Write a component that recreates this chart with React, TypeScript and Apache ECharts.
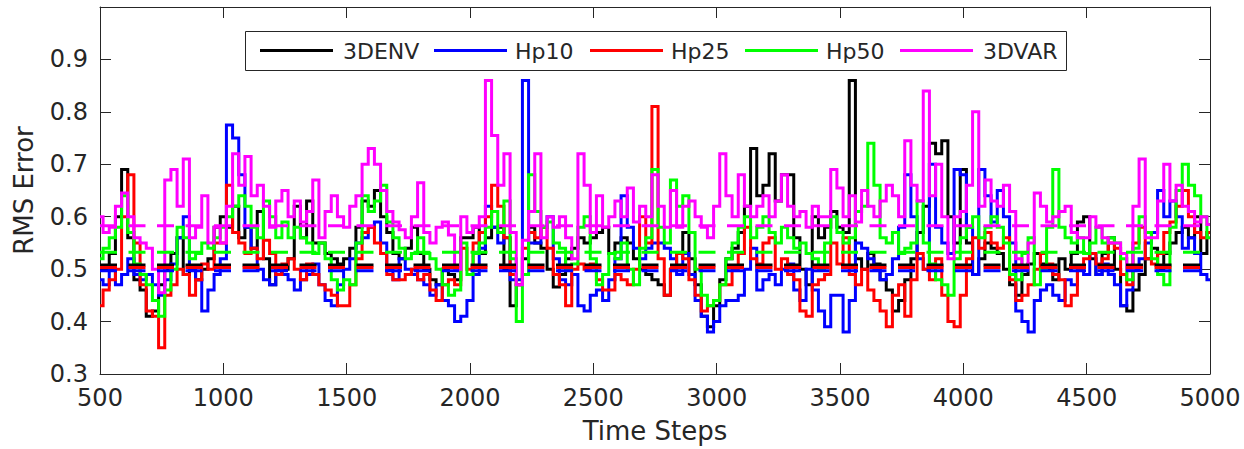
import React, { useEffect, useRef } from 'react';
import * as echarts from 'echarts';

// ---- data ----
const seriesNames = ['3DENV', 'Hp10', 'Hp25', 'Hp50', '3DVAR'];
const seriesColors = ['#000000', '#0000ff', '#ff0000', '#00ff00', '#ff00ff'];
const stepStart = 500;
const stepSize = 25;

const envValues = [
  0.50,0.50,0.53,0.60,0.69,0.56,0.48,0.46,0.41,0.42,0.47,0.50,0.53,0.56,0.49,0.50,0.48,0.50,0.52,0.58,
  0.60,0.58,0.62,0.56,0.58,0.54,0.61,0.52,0.47,0.49,0.50,0.52,0.62,0.56,0.63,0.55,0.55,0.53,0.52,0.51,
  0.52,0.54,0.58,0.63,0.62,0.65,0.60,0.57,0.53,0.52,0.54,0.58,0.53,0.50,0.48,0.47,0.50,0.49,0.48,0.56,
  0.56,0.58,0.53,0.56,0.58,0.58,0.50,0.43,0.47,0.52,0.58,0.55,0.54,0.50,0.466,0.49,0.52,0.54,0.56,0.55,
  0.56,0.57,0.58,0.53,0.55,0.56,0.55,0.52,0.50,0.49,0.48,0.47,0.45,0.50,0.53,0.57,0.52,0.47,0.41,0.39,
  0.43,0.48,0.52,0.54,0.57,0.62,0.73,0.64,0.66,0.72,0.63,0.68,0.68,0.56,0.50,0.47,0.60,0.56,0.58,0.61,
  0.58,0.57,0.86,0.52,0.50,0.53,0.51,0.48,0.46,0.42,0.44,0.48,0.52,0.57,0.62,0.74,0.72,0.745,0.60,0.55,
  0.69,0.55,0.49,0.52,0.55,0.54,0.53,0.50,0.47,0.45,0.49,0.51,0.53,0.51,0.50,0.48,0.52,0.50,0.53,0.59,
  0.60,0.52,0.49,0.53,0.56,0.50,0.43,0.42,0.46,0.49,0.52,0.54,0.50,0.53,0.55,0.57,0.58,0.56,0.60,0.53,0.57,
];

const hp10Values = [
  0.48,0.47,0.50,0.47,0.49,0.52,0.49,0.48,0.49,0.47,0.45,0.48,0.51,0.56,0.60,0.50,0.48,0.42,0.46,0.49,
  0.52,0.775,0.75,0.68,0.58,0.54,0.50,0.48,0.47,0.50,0.49,0.48,0.46,0.48,0.49,0.51,0.47,0.44,0.43,0.47,
  0.50,0.52,0.55,0.56,0.58,0.59,0.55,0.50,0.48,0.52,0.50,0.49,0.48,0.47,0.45,0.47,0.44,0.43,0.40,0.41,
  0.44,0.49,0.54,0.62,0.58,0.55,0.56,0.48,0.48,0.86,0.55,0.55,0.58,0.60,0.52,0.48,0.47,0.49,0.43,0.42,
  0.45,0.46,0.44,0.48,0.52,0.64,0.58,0.54,0.52,0.54,0.55,0.55,0.54,0.52,0.49,0.53,0.49,0.44,0.41,0.38,
  0.40,0.43,0.44,0.44,0.45,0.50,0.54,0.46,0.48,0.49,0.47,0.50,0.51,0.46,0.44,0.50,0.46,0.42,0.39,0.45,
  0.45,0.38,0.44,0.55,0.54,0.52,0.50,0.48,0.49,0.52,0.58,0.68,0.60,0.52,0.50,0.70,0.58,0.55,0.53,0.69,
  0.68,0.58,0.49,0.69,0.64,0.59,0.65,0.60,0.55,0.42,0.40,0.38,0.44,0.46,0.47,0.45,0.44,0.48,0.47,0.50,
  0.49,0.53,0.49,0.51,0.49,0.47,0.43,0.46,0.50,0.52,0.55,0.57,0.65,0.60,0.63,0.60,0.54,0.56,0.53,0.49,0.48,
];

const hp25Values = [
  0.43,0.46,0.48,0.50,0.60,0.68,0.55,0.47,0.42,0.41,0.35,0.45,0.47,0.50,0.49,0.45,0.48,0.51,0.50,0.55,
  0.55,0.66,0.57,0.55,0.53,0.54,0.52,0.555,0.53,0.49,0.51,0.52,0.50,0.48,0.51,0.49,0.47,0.46,0.45,0.43,
  0.43,0.47,0.52,0.57,0.58,0.55,0.53,0.49,0.48,0.48,0.49,0.50,0.48,0.49,0.46,0.44,0.47,0.48,0.47,0.54,
  0.50,0.55,0.57,0.60,0.66,0.62,0.56,0.49,0.47,0.54,0.57,0.56,0.58,0.54,0.49,0.47,0.43,0.50,0.51,0.50,
  0.51,0.48,0.46,0.46,0.49,0.48,0.47,0.50,0.60,0.55,0.81,0.52,0.45,0.50,0.53,0.52,0.48,0.45,0.42,0.43,
  0.44,0.47,0.47,0.50,0.53,0.58,0.52,0.51,0.55,0.56,0.50,0.52,0.49,0.48,0.42,0.41,0.47,0.48,0.49,0.55,
  0.51,0.56,0.49,0.47,0.50,0.46,0.44,0.42,0.39,0.45,0.47,0.41,0.48,0.53,0.50,0.48,0.52,0.45,0.40,0.39,
  0.45,0.52,0.56,0.54,0.57,0.55,0.54,0.56,0.48,0.44,0.45,0.47,0.50,0.53,0.51,0.49,0.48,0.43,0.45,0.50,
  0.52,0.53,0.51,0.52,0.55,0.54,0.49,0.47,0.55,0.58,0.52,0.51,0.53,0.57,0.59,0.62,0.65,0.60,0.57,0.56,0.57,
];

const hp50Values = [
  0.52,0.54,0.56,0.58,0.64,0.57,0.51,0.49,0.47,0.44,0.41,0.46,0.50,0.58,0.56,0.52,0.53,0.55,0.54,0.56,
  0.58,0.60,0.62,0.64,0.62,0.58,0.56,0.63,0.60,0.56,0.59,0.56,0.58,0.56,0.55,0.53,0.55,0.52,0.48,0.46,
  0.48,0.47,0.55,0.64,0.61,0.63,0.66,0.59,0.56,0.54,0.52,0.53,0.56,0.53,0.52,0.50,0.47,0.45,0.46,0.55,
  0.49,0.53,0.55,0.58,0.61,0.57,0.63,0.52,0.40,0.49,0.68,0.61,0.58,0.59,0.55,0.54,0.50,0.51,0.58,0.60,
  0.52,0.47,0.49,0.53,0.52,0.55,0.50,0.47,0.54,0.56,0.69,0.58,0.55,0.67,0.62,0.64,0.57,0.50,0.45,0.43,
  0.44,0.47,0.52,0.55,0.58,0.60,0.56,0.58,0.60,0.57,0.55,0.58,0.56,0.54,0.55,0.53,0.52,0.50,0.55,0.60,
  0.57,0.55,0.56,0.61,0.62,0.74,0.66,0.56,0.55,0.57,0.53,0.54,0.55,0.63,0.55,0.51,0.48,0.47,0.45,0.52,
  0.56,0.58,0.60,0.56,0.58,0.60,0.58,0.55,0.49,0.48,0.53,0.56,0.47,0.50,0.58,0.69,0.58,0.56,0.55,0.56,
  0.53,0.55,0.58,0.55,0.56,0.55,0.52,0.48,0.54,0.60,0.57,0.52,0.49,0.47,0.58,0.65,0.70,0.66,0.64,0.60,0.56,
];

const var3dValues = [
  0.60,0.57,0.58,0.62,0.645,0.60,0.56,0.55,0.54,0.50,0.455,0.67,0.69,0.62,0.71,0.56,0.58,0.64,0.55,0.58,
  0.55,0.62,0.72,0.66,0.715,0.64,0.66,0.62,0.58,0.63,0.65,0.60,0.63,0.59,0.61,0.67,0.56,0.61,0.64,0.60,
  0.58,0.62,0.64,0.70,0.73,0.70,0.65,0.61,0.59,0.575,0.56,0.60,0.665,0.57,0.55,0.58,0.59,0.565,0.50,0.60,
  0.57,0.58,0.60,0.86,0.755,0.66,0.72,0.57,0.47,0.555,0.61,0.72,0.56,0.60,0.58,0.60,0.56,0.52,0.72,0.66,
  0.57,0.64,0.58,0.60,0.63,0.60,0.655,0.59,0.62,0.60,0.68,0.62,0.58,0.65,0.58,0.62,0.63,0.60,0.58,0.56,
  0.62,0.72,0.64,0.60,0.68,0.62,0.60,0.62,0.64,0.60,0.63,0.68,0.62,0.60,0.61,0.58,0.62,0.60,0.60,0.69,
  0.655,0.60,0.64,0.59,0.65,0.62,0.60,0.63,0.66,0.64,0.60,0.745,0.66,0.63,0.84,0.64,0.70,0.60,0.52,0.60,
  0.61,0.66,0.80,0.62,0.67,0.63,0.62,0.66,0.61,0.52,0.50,0.55,0.645,0.62,0.59,0.60,0.61,0.62,0.57,0.56,
  0.56,0.60,0.58,0.56,0.55,0.55,0.53,0.50,0.62,0.71,0.56,0.56,0.63,0.70,0.63,0.66,0.62,0.61,0.59,0.60,0.585,
];

// mean (dashed) levels, in series order
const meanValues = [0.508, 0.497, 0.503, 0.532, 0.583];

const allValues = [envValues, hp10Values, hp25Values, hp50Values, var3dValues];

// ---- style ----
const fontFamily = 'DejaVu Sans';
const axisColor = '#262626';
const xMin = 500;
const xMax = 5000;
const yMin = 0.3;
const yMax = 1.0;

const legendLineX = [260, 434, 590, 745, 900];
const legendTextX = [343, 515, 671, 826, 983];

export default function App() {
  const ref = useRef<HTMLDivElement>(null);

  useEffect(() => {
    if (!ref.current) return;
    const chart = echarts.init(ref.current, null, { renderer: 'svg' });

    const dataSeries = allValues.map((vals, si) => ({
      name: seriesNames[si],
      type: 'line',
      step: 'middle',
      data: vals.map((v, i) => [stepStart + i * stepSize, v]),
      showSymbol: false,
      symbol: 'none',
      lineStyle: { color: seriesColors[si], width: 3, join: 'miter' },
      itemStyle: { color: seriesColors[si] },
      z: 2 + si,
      silent: true,
    }));

    const meanSeries = meanValues.map((m, si) => ({
      name: seriesNames[si] + ' mean',
      type: 'line',
      data: [[xMin, m], [xMax, m]],
      showSymbol: false,
      symbol: 'none',
      lineStyle: { color: seriesColors[si], width: 3, type: [17, 11.5] },
      z: 10 + si,
      silent: true,
    }));

    const axisCommon = {
      axisLine: { show: true, onZero: false, lineStyle: { color: axisColor, width: 1 } },
      axisTick: { show: true, inside: true, length: 11, lineStyle: { color: axisColor, width: 1 } },
      splitLine: { show: false },
    };

    const legendGraphics: any[] = [
      {
        type: 'rect',
        shape: { x: 245.5, y: 31.5, width: 821, height: 39 },
        style: { fill: '#ffffff', stroke: axisColor, lineWidth: 1 },
        z: 100,
      },
    ];
    seriesNames.forEach((n, i) => {
      legendGraphics.push({
        type: 'line',
        shape: { x1: legendLineX[i], y1: 50.5, x2: legendLineX[i] + 73, y2: 50.5 },
        style: { stroke: seriesColors[i], lineWidth: 3 },
        z: 101,
      });
      legendGraphics.push({
        type: 'text',
        x: legendTextX[i],
        y: 51,
        style: {
          text: n,
          fontSize: 22,
          fontFamily,
          fill: axisColor,
          textAlign: 'left',
          textVerticalAlign: 'middle',
          verticalAlign: 'middle',
        },
        z: 101,
      });
    });

    chart.setOption({
      animation: false,
      backgroundColor: '#ffffff',
      textStyle: { fontFamily },
      grid: { left: 100, right: 34, top: 7, bottom: 75, containLabel: false },
      xAxis: [
        {
          type: 'value',
          min: xMin,
          max: xMax,
          interval: 500,
          position: 'bottom',
          ...axisCommon,
          axisLabel: {
            color: axisColor,
            fontSize: 24,
            fontFamily,
            margin: 12,
            formatter: (v: number) => String(Math.round(v)),
          },
          name: 'Time Steps',
          nameLocation: 'middle',
          nameGap: 44,
          nameTextStyle: { color: axisColor, fontSize: 26, fontFamily },
        },
        {
          type: 'value',
          min: xMin,
          max: xMax,
          interval: 500,
          position: 'top',
          ...axisCommon,
          axisLabel: { show: false },
        },
      ],
      yAxis: [
        {
          type: 'value',
          min: yMin,
          max: yMax,
          interval: 0.1,
          position: 'left',
          ...axisCommon,
          axisLabel: {
            color: axisColor,
            fontSize: 24,
            fontFamily,
            margin: 12,
            formatter: (v: number) => (v > 0.95 ? '' : v.toFixed(1)),
          },
          name: 'RMS Error',
          nameLocation: 'middle',
          nameRotate: 90,
          nameGap: 63,
          nameTextStyle: { color: axisColor, fontSize: 26, fontFamily },
        },
        {
          type: 'value',
          min: yMin,
          max: yMax,
          interval: 0.1,
          position: 'right',
          ...axisCommon,
          axisLabel: { show: false },
        },
      ],
      series: [...dataSeries, ...meanSeries],
      graphic: legendGraphics,
    });

    return () => {
      chart.dispose();
    };
  }, []);

  return (
    <div
      ref={ref}
      style={{ position: 'absolute', left: 0, top: 0, width: 1244, height: 449, background: '#ffffff' }}
    />
  );
}
